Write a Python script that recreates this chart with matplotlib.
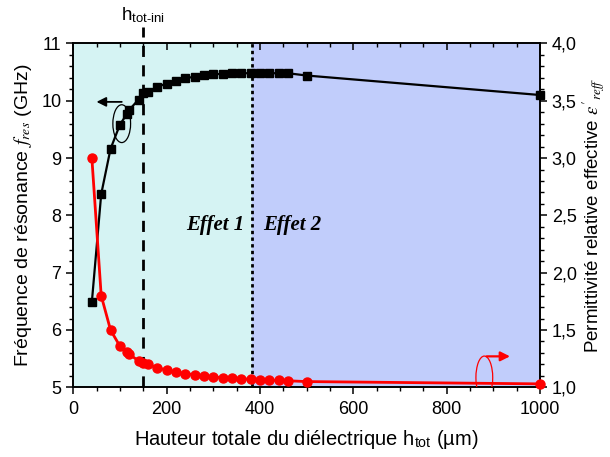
import numpy as np
import matplotlib
matplotlib.use('Agg')
import matplotlib.pyplot as plt
from matplotlib.patches import Ellipse
from matplotlib.ticker import MultipleLocator, FuncFormatter

plt.rcParams['font.family'] = ['Liberation Sans', 'DejaVu Sans']
plt.rcParams['mathtext.fontset'] = 'stix'

# data
h_tot = [40, 60, 80, 100, 115, 120, 140, 150, 160, 180, 200, 220, 240, 260, 280,
         300, 320, 340, 360, 380, 400, 420, 440, 460, 500, 1000]
f_res = [6.49, 8.37, 9.16, 9.58, 9.77, 9.84, 10.02, 10.13, 10.16, 10.24, 10.30,
         10.35, 10.39, 10.42, 10.45, 10.46, 10.47, 10.48, 10.48, 10.48, 10.48,
         10.48, 10.48, 10.48, 10.44, 10.10]
eps_reff = [3.00, 1.80, 1.50, 1.36, 1.31, 1.29, 1.23, 1.21, 1.20, 1.17, 1.15,
            1.13, 1.12, 1.11, 1.10, 1.09, 1.085, 1.08, 1.075, 1.07, 1.066,
            1.063, 1.06, 1.057, 1.05, 1.03]

h_ini = 150
h_lim = 383

fig = plt.figure(figsize=(6.1, 4.57), dpi=100)
ax1 = fig.add_axes([0.120, 0.1525, 0.765, 0.7525])
ax2 = ax1.twinx()

ax1.set_xlim(0, 1000)
ax1.set_ylim(5, 11)
ax2.set_ylim(1.0, 4.0)

ax1.axvspan(0, h_lim, color='#d5f3f3', zorder=0)
ax1.axvspan(h_lim, 1000, color='#c1cdfb', zorder=0)

ax1.plot(h_tot, f_res, '-s', color='black', lw=1.6, ms=5.5, zorder=3, clip_on=False)
ax2.plot(h_tot, eps_reff, '-o', color='red', lw=2.0, ms=6.5, zorder=3, clip_on=False)

ax1.plot([h_ini, h_ini], [5, 11.28], '--', color='black', lw=2.0, dashes=(4, 3),
         clip_on=False, zorder=2)
ax1.plot([h_lim, h_lim], [5, 11], color='black', lw=2.0, dashes=(1.2, 1.2), zorder=2)

ax1.text(150, 11.33, r'h$_\mathregular{tot\text{-}ini}$', ha='center', va='bottom', fontsize=13.5)

ax1.text(304, 7.83, 'Effet 1', family='Liberation Serif', style='italic', weight='bold',
         fontsize=15, ha='center', va='center')
ax1.text(469, 7.83, 'Effet 2', family='Liberation Serif', style='italic', weight='bold',
         fontsize=15, ha='center', va='center')

ax1.add_patch(Ellipse((104, 9.60), 38, 0.66, angle=0, fill=False, color='black', lw=0.9, zorder=4))
ax1.annotate('', xy=(44, 9.98), xytext=(110, 9.98),
             arrowprops=dict(arrowstyle='-|>', color='black', lw=1.3, mutation_scale=14), zorder=4)
ax2.add_patch(Ellipse((881, 1.085), 36, 0.375, fill=False, color='red', lw=0.9, zorder=4))
ax2.annotate('', xy=(942, 1.27), xytext=(880, 1.27),
             arrowprops=dict(arrowstyle='-|>', color='red', lw=1.6, mutation_scale=14), zorder=4)

ax1.xaxis.set_major_locator(MultipleLocator(200))
ax1.xaxis.set_minor_locator(MultipleLocator(50))
ax1.yaxis.set_major_locator(MultipleLocator(1))
ax1.yaxis.set_minor_locator(MultipleLocator(0.2))
ax2.yaxis.set_major_locator(MultipleLocator(0.5))
ax2.yaxis.set_minor_locator(MultipleLocator(0.1))
ax2.yaxis.set_major_formatter(FuncFormatter(lambda v, p: ('%.1f' % v).replace('.', ',')))

ax1.tick_params(axis='x', which='both', direction='out', top=True, labelsize=13, pad=5)
ax1.tick_params(axis='y', which='both', direction='out', labelsize=13)
ax2.tick_params(axis='y', which='both', direction='out', labelsize=13)
for ax in (ax1, ax2):
    ax.tick_params(which='major', length=5, width=1.1)
    ax.tick_params(which='minor', length=3, width=1.0)
    for s in ax.spines.values():
        s.set_linewidth(1.2)

# top ticks point into the plot
for t in ax1.xaxis.get_major_ticks() + ax1.xaxis.get_minor_ticks():
    t.tick2line.set_marker(3)

ax1.set_xlabel(r'Hauteur totale du diélectrique h$_\mathregular{tot}$ (µm)', fontsize=14.5, labelpad=7)
ax1.set_ylabel(r'Fréquence de résonance $f_{res}$ (GHz)', fontsize=14, labelpad=5)
ax2.set_ylabel(r"Permittivité relative effective $\varepsilon'_{reff}$", fontsize=13.5, labelpad=3)

fig.savefig('out.png', dpi=100)
